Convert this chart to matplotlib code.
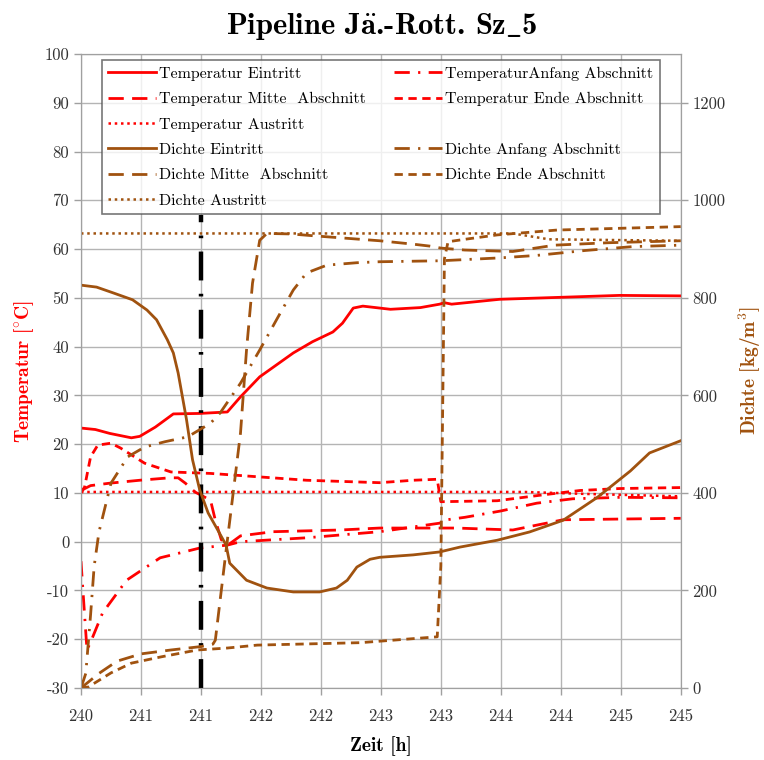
import matplotlib
matplotlib.use("Agg")
import matplotlib.pyplot as plt
import numpy as np
from matplotlib.lines import Line2D
from matplotlib.ticker import FuncFormatter

RED = "#ff0000"
BROWN = "#a0520f"

# --- Temperatur (left axis, degC) ---
t_ein_t = [240.0, 240.12, 240.24, 240.42, 240.49, 240.62, 240.77, 240.99, 241.22, 241.33,
           241.49, 241.77, 241.93, 242.1, 242.18, 242.27, 242.35, 242.58, 242.83, 242.99,
           243.03, 243.09, 243.49, 243.99, 244.49, 245.0]
temp_ein = [23.3, 23.0, 22.2, 21.3, 21.6, 23.5, 26.2, 26.3, 26.6, 29.7,
            33.8, 38.7, 41.0, 43.0, 44.8, 47.9, 48.3, 47.65, 48.0, 48.7,
            49.0, 48.7, 49.7, 50.1, 50.5, 50.4]

t_anf_t = [240.0, 240.03, 240.05, 240.09, 240.18, 240.38, 240.66, 240.99, 241.22, 241.33,
           241.88, 242.49, 242.99, 243.05, 243.2, 243.5, 243.8, 244.1, 244.5, 245.0]
temp_anf = [-4.0, -15.0, -22.2, -20.0, -14.6, -7.9, -3.3, -1.3, -0.7, 0.0,
            0.8, 2.05, 3.8, 4.5, 5.0, 6.3, 7.9, 8.8, 9.1, 9.0]

t_mit_t = [240.0, 240.08, 240.24, 240.49, 240.74, 240.81, 240.87, 240.95, 241.08, 241.12,
           241.17, 241.23, 241.33, 241.6, 242.16, 242.49, 243.13, 243.6, 244.02, 245.0]
temp_mit = [10.5, 11.5, 12.0, 12.6, 13.1, 13.1, 12.0, 10.2, 8.5, 4.4,
            0.4, -0.6, 1.2, 2.05, 2.4, 2.8, 2.8, 2.4, 4.5, 4.8]

t_end_t = [240.0, 240.03, 240.08, 240.14, 240.25, 240.33, 240.53, 240.75, 241.08, 241.48,
           241.88, 242.49, 242.77, 242.97, 243.0, 243.47, 243.85, 244.16, 244.49, 245.0]
temp_end = [10.0, 11.2, 17.4, 19.8, 20.2, 19.2, 16.1, 14.3, 14.0, 13.3,
            12.6, 12.1, 12.6, 12.8, 8.2, 8.4, 9.6, 10.5, 10.9, 11.1]

t_aus_t = [240.0, 243.7, 244.2, 245.0]
temp_aus = [10.2, 10.2, 9.8, 9.3]

# --- Dichte (right axis, kg/m3) ---
t_ein_d = [240.0, 240.13, 240.27, 240.43, 240.55, 240.63, 240.72, 240.77, 240.81, 240.88,
           240.93, 240.99, 241.06, 241.14, 241.21, 241.24, 241.38, 241.55, 241.77, 241.99,
           242.13, 242.22, 242.3, 242.41, 242.49, 242.77, 242.99, 243.16, 243.47, 243.74,
           244.02, 244.3, 244.58, 244.74, 245.0]
dichte_ein = [826, 822, 810, 796, 775, 755, 714, 687, 646, 550,
              468, 406, 359, 324, 293, 256, 221, 205, 197, 197,
              205, 221, 248, 264, 268, 273, 279, 289, 303, 320,
              344, 390, 445, 482, 507]

t_anf_d = [240.0, 240.04, 240.08, 240.11, 240.15, 240.25, 240.39, 240.53, 240.7, 240.89,
           241.08, 241.16, 241.33, 241.49, 241.63, 241.77, 241.88, 242.05, 242.3, 242.49,
           243.0, 243.5, 243.8, 244.2, 244.6, 245.0]
dichte_anf = [0, 30, 150, 250, 320, 420, 474, 494, 505, 515,
              543, 564, 625, 693, 755, 816, 851, 867, 872, 874,
              876, 882, 887, 897, 905, 908]

t_mit_d = [240.0, 240.15, 240.3, 240.5, 240.75, 241.0, 241.1, 241.12, 241.2, 241.33,
           241.38, 241.43, 241.49, 241.55, 241.75, 241.95, 242.22, 242.49, 242.77, 242.91,
           243.0, 243.2, 243.6, 243.95, 244.4, 245.0]
dichte_mit = [0, 30, 55, 70, 78, 85, 90, 98, 262, 523,
              693, 830, 918, 932, 931, 927, 922, 917, 910, 906,
              902, 898, 895, 908, 913, 917]

t_end_d = [240.0, 240.06, 240.25, 240.42, 240.67, 240.97, 241.22, 241.47, 242.33, 242.97,
           243.0, 243.03, 243.06, 243.2, 243.47, 243.97, 245.0]
dichte_end = [0, 2, 31, 51, 64, 78, 82, 88, 93, 105,
              250, 880, 915, 920, 929, 939, 946]

t_aus_d = [240.0, 243.6, 243.9, 245.0]
dichte_aus = [932, 932, 920, 917]

marker_t = 241.0
marker_range = [-30, 67]

x_ticks = np.arange(240, 245.01, 0.5)

plt.rcParams["font.family"] = ["cmr10", "DejaVu Serif"]
plt.rcParams["mathtext.fontset"] = "cm"
plt.rcParams["axes.unicode_minus"] = False

fig = plt.figure(figsize=(7.64, 7.60), dpi=100)
ax = fig.add_axes([0.106, 0.0947, 0.785, 0.8343])
ax2 = ax.twinx()

# styles
ls_mitte = (0, (5.5, 3.0))
ls_ende = (0, (3.0, 2.0))
ls_anf = (0, (5.5, 3.0, 0.8, 3.0))
ls_aus = (0, (1.0, 1.5))

h = []
h.append(ax.plot(t_ein_t, temp_ein, color=RED, lw=2.0, label="Temperatur Eintritt")[0])
h.append(ax.plot(t_mit_t, temp_mit, color=RED, lw=2.0, ls=ls_mitte, label="Temperatur Mitte  Abschnitt")[0])
h.append(ax.plot(t_aus_t, temp_aus, color=RED, lw=1.8, ls=ls_aus, label="Temperatur Austritt")[0])
h_anf_t = ax.plot(t_anf_t, temp_anf, color=RED, lw=2.0, ls=ls_anf, label="TemperaturAnfang Abschnitt")[0]
h_end_t = ax.plot(t_end_t, temp_end, color=RED, lw=2.0, ls=ls_ende, label="Temperatur Ende Abschnitt")[0]

h.append(ax2.plot(t_ein_d, dichte_ein, color=BROWN, lw=2.0, label="Dichte Eintritt")[0])
h.append(ax2.plot(t_mit_d, dichte_mit, color=BROWN, lw=2.0, ls=ls_mitte, label="Dichte Mitte  Abschnitt")[0])
h.append(ax2.plot(t_aus_d, dichte_aus, color=BROWN, lw=1.8, ls=ls_aus, label="Dichte Austritt")[0])
h_anf_d = ax2.plot(t_anf_d, dichte_anf, color=BROWN, lw=2.0, ls=ls_anf, label="Dichte Anfang Abschnitt")[0]
h_end_d = ax2.plot(t_end_d, dichte_end, color=BROWN, lw=2.0, ls=ls_ende, label="Dichte Ende Abschnitt")[0]

# marker line at the current time
ax.plot([marker_t, marker_t], marker_range, color="black", lw=3.2,
        ls=(0, (6.5, 3.0, 0.6, 3.0)), zorder=5)

blank = Line2D([], [], color="none", label=" ")
handles = h + [h_anf_t, h_end_t, blank, h_anf_d, h_end_d, blank]

ax.set_xlim(240, 245)
ax.set_ylim(-30, 100)
ax2.set_ylim(0, 1300)
ax.set_xticks(x_ticks)
ax.set_yticks(np.arange(-30, 101, 10))
ax2.set_yticks(np.arange(0, 1201, 200))
ax.xaxis.set_major_formatter(FuncFormatter(lambda v, p: f"{int(np.floor(v + 0.5))}"))
ax.yaxis.set_major_formatter(FuncFormatter(lambda v, p: f"{int(round(v))}"))
ax2.yaxis.set_major_formatter(FuncFormatter(lambda v, p: f"{int(round(v))}"))

ax.grid(True, color="#b4b4b4", lw=1.0)
ax.set_axisbelow(True)
for a in (ax, ax2):
    for s in a.spines.values():
        s.set_color("#a0a0a0")
    a.tick_params(colors="#a0a0a0", labelcolor="#333333", labelsize=12, length=5, width=1.0)
ax.tick_params(axis="x", pad=10)

bold = ["cmb10", "DejaVu Serif"]
ax.set_xlabel("Zeit [h]", fontsize=14, family=bold, fontweight="bold", labelpad=9)
ax.set_ylabel(r"Temperatur [$\mathbf{{}^{\circ}C}$]", fontsize=14, family=bold,
              fontweight="bold", color=RED, labelpad=6)
ax2.set_ylabel(r"Dichte [kg/m$\mathbf{^{3}}$]", fontsize=14, family=bold,
               fontweight="bold", color=BROWN, labelpad=8)
fig.suptitle(r"Pipeline J$\mathbf{\ddot{a}}$.-Rott. Sz$\mathbf{\_}$5", fontsize=22,
             family=bold, fontweight="bold", y=0.985)

leg = ax2.legend(handles=handles, ncol=2, loc="upper left",
                 bbox_to_anchor=(0.035, 0.754, 0.93, 0.236), mode="expand",
                 fontsize=11.5, frameon=True, fancybox=False, handlelength=3.0,
                 handletextpad=0.2, borderaxespad=0, labelspacing=0.7,
                 borderpad=0.4)
leg.get_frame().set_edgecolor("#555555")
leg.get_frame().set_linewidth(1.2)
leg.set_zorder(10)

fig.savefig("out.png", dpi=100)
